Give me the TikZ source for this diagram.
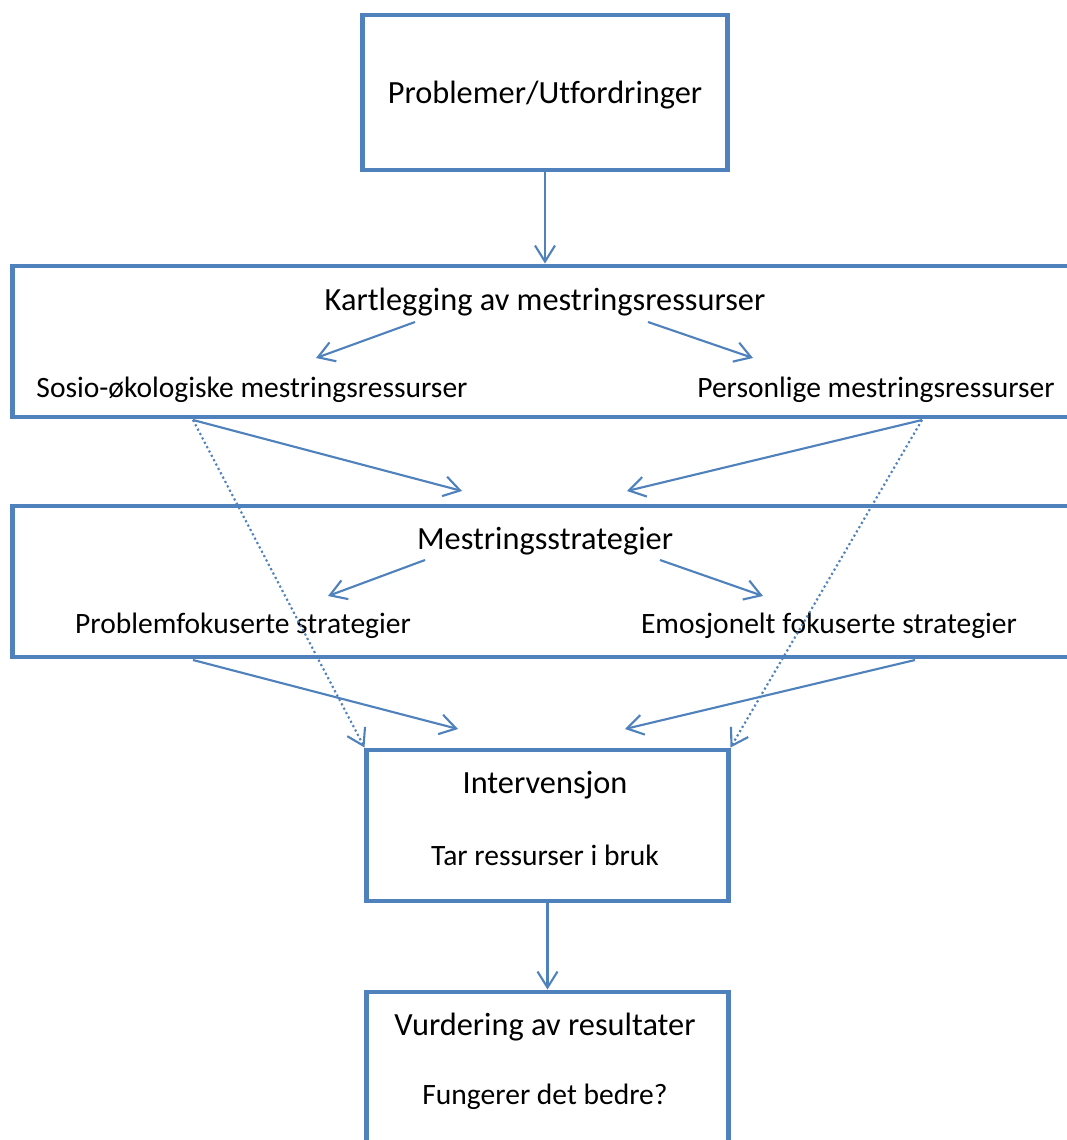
\documentclass[tikz,border=0pt]{standalone}
\usepackage{fontspec}
\setmainfont{Carlito}[Ligatures=NoCommon]
\usetikzlibrary{arrows.meta}
\definecolor{boxblue}{HTML}{4F81BD}

\begin{document}
\begin{tikzpicture}[x=0.025cm,y=-0.025cm,
    box/.style={draw=boxblue,line width=3.5pt,rectangle,inner sep=0pt},
    big/.style={font=\fontsize{23}{26}\selectfont,inner sep=0pt},
    small/.style={font=\fontsize{21}{24}\selectfont,inner sep=0pt},
    arr/.style={draw=boxblue,line width=1.5pt,-{Straight Barb[length=0.4cm,width=0.5cm,line width=1.5pt]}},
    dotarr/.style={arr,dotted}]
                    \clip (0,0) rectangle (1067,1140);
                    \fill[white] (0,0) rectangle (1067,1140);
                    % boxes
                    \node[box,minimum width=9.1cm,minimum height=3.875cm] (prob) at (545,92.5) {};
                    \node[box,minimum width=26.925cm,minimum height=3.775cm] (kart) at (551.5,341.5) {};
                    \node[box,minimum width=26.925cm,minimum height=3.775cm] (strat) at (551.5,581.5) {};
                    \node[box,minimum width=9.025cm,minimum height=3.775cm] (inter) at (547.5,825.5) {};
                    \node[box,minimum width=9.025cm,minimum height=5.2cm] (vurd) at (547.5,1096) {};
                    % texts
                    \node[big] (probtxt) at (545,95) {Problemer/Utfordringer};
                    \node[big] (karttxt) at (545,302) {Kartlegging av mestringsressurser};
                    \node[small] (sosio) at (252,390) {Sosio-økologiske mestringsressurser};
                    \node[small] (pers) at (876,390) {Personlige mestringsressurser};
                    \node[big] (strattxt) at (545,541) {Mestringsstrategier};
                    \node[small] (probfok) at (243,626) {Problemfokuserte strategier};
                    \node[small] (emo) at (829,626) {Emosjonelt fokuserte strategier};
                    \node[big] (intertxt) at (545,785) {Intervensjon};
                    \node[small] (tar) at (545,855) {Tar ressurser i bruk};
                    \node[big] (vurdtxt) at (545,1027) {Vurdering av resultater};
                    \node[small] (fung) at (545,1097) {Fungerer det bedre?};
                    % connector ends
                    \coordinate (kL) at (415,322);
                    \coordinate (kR) at (648,322);
                    \coordinate (sosioIn) at (316,358);
                    \coordinate (persIn) at (753,358);
                    \coordinate (sL) at (193,420);
                    \coordinate (sR) at (922,420);
                    \coordinate (stratInL) at (462,491);
                    \coordinate (stratInR) at (627,491);
                    \coordinate (mL) at (425,560);
                    \coordinate (mR) at (660,560);
                    \coordinate (probfokIn) at (328,596);
                    \coordinate (emoIn) at (763,596);
                    \coordinate (pL) at (193,660);
                    \coordinate (pR) at (915,660);
                    \coordinate (interInL) at (458,729);
                    \coordinate (interInR) at (625,729);
                    % connectors
                    \draw[arr] (prob.south) -- (prob.south |- kart.north);
                    \draw[arr] (kL) -- (sosioIn);
                    \draw[arr] (kR) -- (persIn);
                    \draw[arr] (sL) -- (stratInL);
                    \draw[arr] (sR) -- (stratInR);
                    \draw[dotarr] (sL) -- (inter.north west);
                    \draw[dotarr] (sR) -- (inter.north east);
                    \draw[arr] (mL) -- (probfokIn);
                    \draw[arr] (mR) -- (emoIn);
                    \draw[arr] (pL) -- (interInL);
                    \draw[arr] (pR) -- (interInR);
                    \draw[arr] (inter.south) -- (vurd.north);
                \end{tikzpicture}
\end{document}
